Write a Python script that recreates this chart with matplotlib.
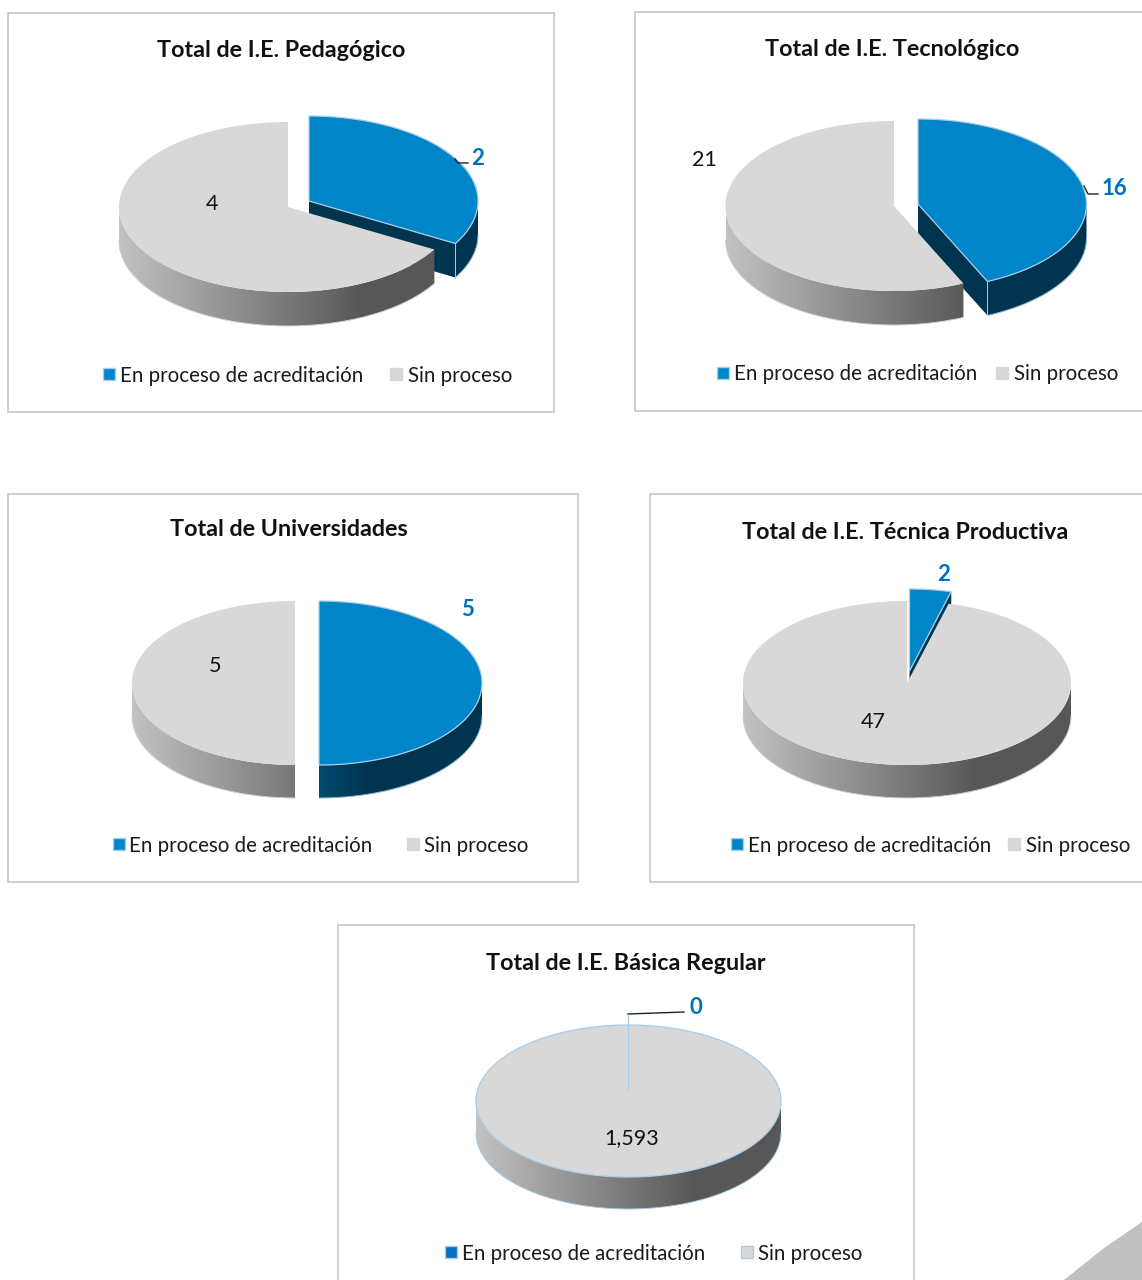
import numpy as np
import matplotlib
matplotlib.use("Agg")
import matplotlib.pyplot as plt
from matplotlib.colors import LinearSegmentedColormap
from matplotlib.patches import Polygon, Rectangle

# ---- data ----
titles = ["Total de I.E. Pedagógico", "Total de I.E. Tecnológico", "Total de Universidades",
          "Total de I.E. Técnica Productiva", "Total de I.E. Básica Regular"]
series_names = ["En proceso de acreditación", "Sin proceso"]
en_proceso = [2, 16, 5, 2, 0]
sin_proceso = [4, 21, 5, 47, 1593]

# ---- layout (pixel space of the 1142x1280 figure) ----
layouts = [
    dict(box=(8, 13, 546, 399), title=(281, 49), c=(288, 207), r=(169, 85), depth=34, off=(21, -6),
         lab0=(478, 157), lab1=(212, 203), leader=[(455, 159), (458, 163), (468, 163)],
         leg=(103, 120, 390, 408, 374)),
    dict(box=(635, 12, 560, 399), title=(892, 48), c=(894, 206), r=(168.5, 85), depth=34, off=(24, -2),
         lab0=(1114, 187), lab1=(704, 159), leader=[(1084, 186), (1088, 194), (1098, 194)],
         leg=(717, 734, 996, 1014, 373)),
    dict(box=(8, 494, 570, 388), title=(289, 528), c=(295, 683), r=(163, 82), depth=33, off=(24, 0),
         lab0=(468, 608), lab1=(215, 665), leader=None,
         leg=(113, 129, 407, 424, 844)),
    dict(box=(650, 494, 560, 388), title=(905, 531), c=(907, 683), r=(164, 82), depth=33, off=(2.5, -12),
         lab0=(944, 573), lab1=(873, 720), leader=None,
         leg=(731, 748, 1008, 1026, 844)),
    dict(box=(338, 925, 576, 400), title=(626, 962), c=(628.5, 1101), r=(152.5, 76), depth=32, off=(-0.5, -11),
         lab0=(696, 1006), lab1=(632, 1137), leader=[(628, 1014), (684, 1012)],
         leg=(445, 462, 741, 758, 1252), outline=True),
]

BLUE, DARK, GRAY = "#0085c8", "#00344f", "#d8d8d8"
EDGE = "#a9cde8"
LABEL_BLUE = "#0070c0"
FONT = "Lato"
TEXT_DY = 1.5

gray_cmap = LinearSegmentedColormap.from_list("g", [(0, "#c2c2c2"), (0.72, "#575757"), (1, "#575757")])
blue_cmap = LinearSegmentedColormap.from_list("b", [(0, "#004a70"), (0.3, DARK), (1, DARK)])

fig = plt.figure(figsize=(11.42, 12.80), dpi=100)
ax = fig.add_axes([0, 0, 1, 1])
ax.set_xlim(0, 1142)
ax.set_ylim(1280, 0)
ax.set_autoscale_on(False)
ax.axis("off")

zc = [10]


def z():
    zc[0] += 1
    return zc[0]


def rim(c, r, t):
    return np.column_stack([c[0] + r[0] * np.sin(t), c[1] - r[1] * np.cos(t)])


def gradient_poly(pts, cmap, x0, x1, y0, y1, zorder):
    poly = Polygon(pts, closed=True, fc="none", ec="none", transform=ax.transData)
    ax.add_patch(poly)
    im = ax.imshow(np.linspace(0, 1, 256)[None, :], cmap=cmap, vmin=0, vmax=1, extent=(x0, x1, y1, y0),
                   aspect="auto", zorder=zorder, interpolation="bilinear")
    im.set_clip_path(poly)


def slice3d(c, r, depth, t1, t2, color, cmap, gx, edge, wall_edge):
    """Slice between clockwise angles t1..t2 (radians from 12 o'clock)."""
    full = t2 - t1 >= 2 * np.pi - 1e-6
    # outer wall (only the lower half faces the viewer)
    a, b = max(t1, np.pi / 2), min(t2, 3 * np.pi / 2)
    if b > a:
        t = np.linspace(a, b, 200)
        top = rim(c, r, t)
        bot = top + [0, depth]
        pts = np.vstack([top, bot[::-1]])
        gradient_poly(pts, cmap, gx[0], gx[1], c[1] - r[1] - 5, c[1] + r[1] + depth + 5, z())
        ax.plot(bot[:, 0], bot[:, 1], color=wall_edge, lw=0.7, zorder=z())
    # radial wall on the closing edge
    if not full and 0 < t2 < np.pi:
        tip = rim(c, r, np.array([t2]))[0]
        ax.add_patch(Polygon([c, tip, tip + [0, depth], (c[0], c[1] + depth)], closed=True,
                             fc=DARK, ec="none", zorder=z()))
        ax.plot([tip[0], tip[0]], [tip[1], tip[1] + depth], color=edge or EDGE, lw=0.7, zorder=z())
    # top face
    t = np.linspace(t1, t2, 300)
    pts = rim(c, r, t)
    if not full:
        pts = np.vstack([[c], pts])
    ax.add_patch(Polygon(pts, closed=True, fc=color, ec=edge or "none", lw=0.9 if edge else 0, zorder=z()))


def leader_and_text(lay, i):
    lab0, lab1 = lay["lab0"], lay["lab1"]
    ax.text(lab0[0], lab0[1] + TEXT_DY, f"{en_proceso[i]:,}", color=LABEL_BLUE, fontsize=16, fontweight="bold",
            family=FONT, ha="center", va="center", zorder=500)
    ax.text(lab1[0], lab1[1] + TEXT_DY, f"{sin_proceso[i]:,}", color="#111111", fontsize=15.5, family=FONT,
            ha="center", va="center", zorder=500)
    if lay["leader"]:
        xs, ys = zip(*lay["leader"])
        ax.plot(xs, ys, color="#222222", lw=1, zorder=400)


for i, lay in enumerate(layouts):
    x, y, w, h = lay["box"]
    ax.add_patch(Rectangle((x, y), w, h, fc="white", ec="#c6c6c6", lw=1.2, zorder=2))
    ax.text(lay["title"][0], lay["title"][1] + TEXT_DY, titles[i], fontsize=16.8, fontweight="bold", family=FONT,
            color="#111111", ha="center", va="center", zorder=500)

    c, r, depth = np.array(lay["c"], float), lay["r"], lay["depth"]
    total = en_proceso[i] + sin_proceso[i]
    ang = 2 * np.pi * en_proceso[i] / total
    cb = c + lay["off"]
    outline = lay.get("outline", False)
    gx_gray = (c[0] - r[0], c[0] + r[0])
    gx_blue = (cb[0], cb[0] + r[0])

    def draw_blue():
        slice3d(cb, r, depth, 0, ang, BLUE, blue_cmap, gx_blue, EDGE, "#8fb6cf")

    def draw_gray():
        slice3d(c, r, depth, ang, 2 * np.pi, GRAY, gray_cmap, gx_gray,
                EDGE if outline else None, EDGE if outline else "#d0d0d0")

    if en_proceso[i] == 0:
        draw_gray()
        draw_blue()
    else:
        draw_blue()
        draw_gray()
    leader_and_text(lay, i)

    # legend
    bx, btx, gx, gtx, ly = lay["leg"]
    lc = "#0070c0" if outline else BLUE
    ax.add_patch(Rectangle((bx, ly - 6), 12, 12, fc=lc, ec=EDGE, lw=1, zorder=500))
    ax.add_patch(Rectangle((gx, ly - 6), 12, 12, fc=GRAY, ec=EDGE if outline else GRAY, lw=1, zorder=500))
    ax.text(btx, ly + TEXT_DY, series_names[0], fontsize=14.8, family=FONT, color="#1a1a1a",
            ha="left", va="center", zorder=500)
    ax.text(gtx, ly + TEXT_DY, series_names[1], fontsize=14.8, family=FONT, color="#1a1a1a",
            ha="left", va="center", zorder=500)

# decorative corner
ax.add_patch(Polygon([(1064, 1280), (1084, 1264), (1104, 1248), (1123, 1235), (1142, 1222), (1142, 1280)],
                     closed=True, fc="#c0c0c0", ec="none", zorder=600))

fig.savefig("out.png", dpi=100)
